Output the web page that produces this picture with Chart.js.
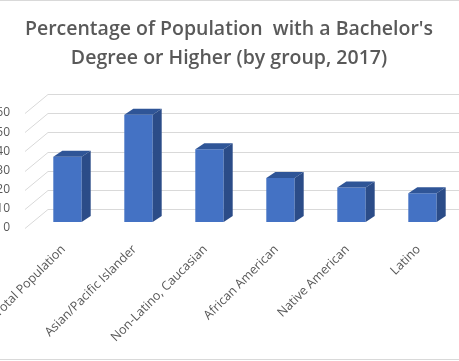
<!DOCTYPE html>
<html>
<head>
<meta charset="utf-8">
<script src="https://cdn.jsdelivr.net/npm/chart.js@4.4.1/dist/chart.umd.min.js"></script>
<style>
  html, body { margin: 0; padding: 0; background: #fff; }
  #wrap { position: relative; width: 459px; height: 361px; }
</style>
</head>
<body>
<div id="wrap"><canvas id="c" width="459" height="361"></canvas></div>
<script>
const categories = ['Total Population', 'Asian/Pacific Islander', 'Non-Latino, Caucasian', 'African American', 'Native American', 'Latino'];
const values = [34, 56, 38, 23, 18, 15];
const yTicks = [0, 10, 20, 30, 40, 50, 60];
const titleLines = ["Percentage of Population  with a Bachelor's", 'Degree or Higher (by group, 2017)'];

const FRONT = { dx: -7, dy: 6 };   // front plane relative to bar plane
const BACK = { dx: 16, dy: -13 };  // back wall relative to bar plane
const DEPTH = { dx: 9, dy: -6 };   // bar depth

const wallPlugin = {
  id: 'wall',
  beforeDatasetsDraw(chart) {
    const { ctx, chartArea, scales } = chart;
    const y = scales.y;
    ctx.save();
    ctx.strokeStyle = '#D9D9D9';
    ctx.lineWidth = 1;
    yTicks.forEach(v => {
      const py = y.getPixelForValue(v);
      const fx = chartArea.left + FRONT.dx, fy = py + FRONT.dy;
      const bx = chartArea.left + BACK.dx, by = py + BACK.dy;
      ctx.beginPath();
      ctx.moveTo(fx, Math.round(fy) + 0.5);
      ctx.lineTo(bx, Math.round(by) + 0.5);
      ctx.lineTo(chart.width + 5, Math.round(by) + 0.5);
      ctx.stroke();
    });
    ctx.restore();
  },
  afterDatasetsDraw(chart) {
    const { ctx } = chart;
    const meta = chart.getDatasetMeta(0);
    ctx.save();
    meta.data.forEach(bar => {
      const p = bar.getProps(['x', 'y', 'base', 'width'], true);
      const l = p.x - p.width / 2, r = p.x + p.width / 2, t = p.y, b = p.base;
      ctx.fillStyle = '#2F5597';
      ctx.beginPath();
      ctx.moveTo(l, t);
      ctx.lineTo(l + DEPTH.dx, t + DEPTH.dy);
      ctx.lineTo(r + DEPTH.dx, t + DEPTH.dy);
      ctx.lineTo(r, t);
      ctx.closePath();
      ctx.fill();
      ctx.fillStyle = '#2B4C88';
      ctx.beginPath();
      ctx.moveTo(r, t);
      ctx.lineTo(r + DEPTH.dx, t + DEPTH.dy);
      ctx.lineTo(r + DEPTH.dx, b + DEPTH.dy);
      ctx.lineTo(r, b);
      ctx.closePath();
      ctx.fill();
    });
    ctx.restore();
  },
  afterDraw(chart) {
    const { ctx } = chart;
    ctx.save();
    ctx.strokeStyle = '#D9D9D9';
    ctx.lineWidth = 1;
    ctx.beginPath();
    ctx.moveTo(0, 0.5); ctx.lineTo(chart.width, 0.5);
    ctx.moveTo(0, 359.5); ctx.lineTo(chart.width, 359.5);
    ctx.stroke();
    ctx.restore();
  }
};

new Chart(document.getElementById('c'), {
  type: 'bar',
  data: {
    labels: categories,
    datasets: [{
      data: values,
      backgroundColor: '#4472C4',
      borderWidth: 0,
      categoryPercentage: 1,
      barPercentage: 0.4
    }]
  },
  options: {
    responsive: false,
    animation: false,
    devicePixelRatio: 1,
    layout: { padding: { left: 0, right: 1, top: 0, bottom: 0 } },
    plugins: {
      legend: { display: false },
      tooltip: { enabled: false },
      title: {
        display: true,
        text: titleLines,
        color: '#595959',
        font: { family: 'Open Sans', size: 19.5, weight: '600', lineHeight: 1.513 },
        padding: { top: 14.25, bottom: 33.75 }
      }
    },
    scales: {
      x: {
        grid: { display: false, drawTicks: false },
        border: { display: false },
        ticks: {
          color: '#595959',
          font: { family: 'Open Sans', size: 12.5 },
          minRotation: 45,
          maxRotation: 45,
          autoSkip: false,
          padding: 20,
          labelOffset: -4
        },
        afterFit(s) { s.height = 139; s.paddingLeft = 0; s.paddingRight = 0; }
      },
      y: {
        min: 0,
        max: 60,
        afterBuildTicks(s) { s.ticks = yTicks.map(v => ({ value: v })); },
        grid: { display: false, drawTicks: false },
        border: { display: false },
        ticks: {
          color: '#595959',
          font: { family: 'Open Sans', size: 12 },
          padding: 22,
          labelOffset: 6
        },
        afterFit(s) { s.width = 32; s.paddingTop = 0; s.paddingBottom = 0; }
      }
    }
  },
  plugins: [wallPlugin]
});
</script>
</body>
</html>
